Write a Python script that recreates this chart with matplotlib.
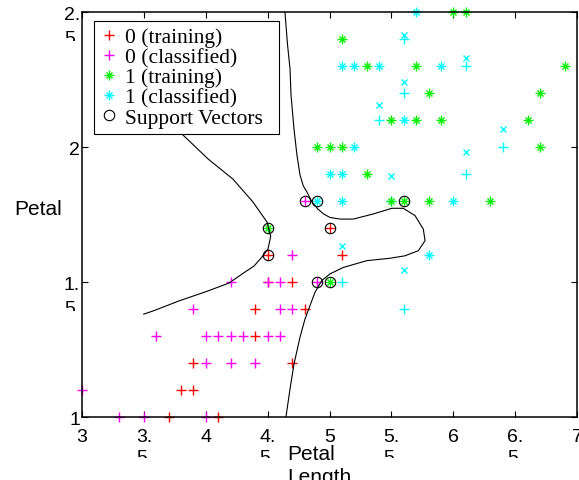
import matplotlib
matplotlib.use('Agg')
import matplotlib.pyplot as plt
from matplotlib.transforms import Affine2D, ScaledTranslation, Bbox
from matplotlib.legend_handler import HandlerTuple

# ---------------- data (petal length, petal width) ----------------
train0_x = [3.7, 4.1, 3.8, 3.9, 3.9, 4.7, 4.4, 4.4, 4.8, 4.5, 4.7, 4.5, 5.1, 5.0]
train0_y = [1.0, 1.0, 1.1, 1.1, 1.2, 1.2, 1.3, 1.4, 1.4, 1.5, 1.5, 1.6, 1.6, 1.7]

class0_x = [3.3, 3.5, 4.0, 3.0, 4.0, 4.2, 4.4, 3.6, 4.0, 4.1, 4.2, 4.3, 4.5, 4.6,
            3.9, 4.6, 4.7, 4.2, 4.5, 4.6, 4.9, 4.7, 4.8]
class0_y = [1.0, 1.0, 1.0, 1.1, 1.2, 1.2, 1.2, 1.3, 1.3, 1.3, 1.3, 1.3, 1.3, 1.3,
            1.4, 1.4, 1.4, 1.5, 1.5, 1.5, 1.5, 1.6, 1.8]

train1_x = [6.0, 6.1, 5.1, 5.3, 5.7, 6.9, 5.8, 6.7, 5.5, 5.7, 5.9, 6.6,
            4.9, 5.0, 5.1, 6.7, 5.3, 5.5, 5.6, 5.8, 6.3, 4.5, 5.0]
train1_y = [2.5, 2.5, 2.4, 2.3, 2.3, 2.3, 2.2, 2.2, 2.1, 2.1, 2.1, 2.1,
            2.0, 2.0, 2.0, 2.0, 1.9, 1.8, 1.8, 1.8, 1.8, 1.7, 1.5]

# classified class 1, drawn as complete asterisks
class1_x = [5.7, 5.1, 5.2, 5.4, 5.9, 5.6, 5.2, 5.0, 5.1, 4.9, 5.1, 6.0, 5.8]
class1_y = [2.5, 2.3, 2.3, 2.3, 2.3, 2.1, 2.0, 1.9, 1.9, 1.8, 1.8, 1.8, 1.6]
# classified class 1 whose "x" stroke is rendered displaced in the reference
class1b_x = [5.6, 6.1, 5.6, 5.4, 6.4, 6.1, 5.5, 5.1, 5.6]
class1b_y = [2.4, 2.3, 2.2, 2.1, 2.0, 1.9, 1.8, 1.5, 1.4]

sv_x = [4.8, 4.9, 5.6, 4.5, 5.0, 4.5, 4.9, 5.0]
sv_y = [1.8, 1.8, 1.8, 1.7, 1.7, 1.6, 1.5, 1.5]

# decision boundary (two branches)
bnd1_x = [3.67, 3.808, 4.018, 4.220, 4.382, 4.495, 4.525, 4.503, 4.455, 4.390,
          4.317, 4.188, 3.994, 3.784, 3.582, 3.499]
bnd1_y = [2.122, 2.048, 1.956, 1.881, 1.796, 1.722, 1.670, 1.622, 1.593, 1.559,
          1.537, 1.496, 1.463, 1.430, 1.394, 1.381]
bnd2_x = [4.640, 4.661, 4.681, 4.689, 4.713, 4.737, 4.762, 4.788, 4.818, 4.859,
          4.907, 4.952, 5.004, 5.085, 5.192, 5.354, 5.503, 5.596, 5.691, 5.758,
          5.772, 5.718, 5.610, 5.489, 5.301, 5.112, 5.004, 4.937, 4.883, 4.842,
          4.802, 4.762, 4.713, 4.681, 4.648]
bnd2_y = [2.500, 2.378, 2.289, 2.193, 2.067, 1.970, 1.896, 1.856, 1.833, 1.796,
          1.770, 1.752, 1.739, 1.733, 1.733, 1.752, 1.773, 1.773, 1.746, 1.696,
          1.653, 1.616, 1.597, 1.588, 1.579, 1.554, 1.530, 1.505, 1.462, 1.412,
          1.363, 1.296, 1.196, 1.104, 1.000]

xticks = [3, 3.5, 4, 4.5, 5, 5.5, 6, 6.5, 7]
xtick_labels = ['3', '3.\n5', '4', '4.\n5', '5', '5.\n5', '6', '6.\n5', '7']
yticks = [1, 1.5, 2, 2.5]
ytick_labels = ['1', '1.\n5', '2', '2.\n5']

legend_labels = ['0 (training)', '0 (classified)', '1 (training)',
                 '1 (classified)', 'Support Vectors']

# ---------------- figure ----------------
W, H, DPI = 579, 481, 100
fig = plt.figure(figsize=(W / DPI, H / DPI), dpi=DPI)
ax = fig.add_axes([82 / W, (H - 418) / H, 495 / W, 405 / H])
ax.set_xlim(3, 7)
ax.set_ylim(1, 2.5)

RED, MAG, GRN, CYN = '#ff0000', '#ff00ff', '#00ee00', '#00ffff'
ms_p, ms_x, mew = 7.5, 5.0, 1.0

h_r, = ax.plot(train0_x, train0_y, ls='none', marker='+', ms=ms_p, mew=mew, color=RED, clip_on=False)
h_m, = ax.plot(class0_x, class0_y, ls='none', marker='+', ms=ms_p, mew=mew, color=MAG, clip_on=False)

h_cp, = ax.plot(class1_x, class1_y, ls='none', marker='+', ms=ms_p, mew=mew, color=CYN, clip_on=False)
h_cx, = ax.plot(class1_x, class1_y, ls='none', marker='x', ms=ms_x, mew=mew, color=CYN, clip_on=False)
ax.plot(class1b_x, class1b_y, ls='none', marker='+', ms=ms_p, mew=mew, color=CYN, clip_on=False)
shift = Affine2D().scale(1, 0.87).translate(0, 2.5 * 0.13 + 0.003) + ax.transData
ax.plot(class1b_x, class1b_y, ls='none', marker='x', ms=ms_x, mew=mew, color=CYN,
        clip_on=False, transform=shift)

h_gp, = ax.plot(train1_x, train1_y, ls='none', marker='+', ms=ms_p, mew=mew, color=GRN, clip_on=False)
h_gx, = ax.plot(train1_x, train1_y, ls='none', marker='x', ms=ms_x, mew=mew, color=GRN, clip_on=False)

h_sv, = ax.plot(sv_x, sv_y, ls='none', marker='o', ms=7.5, mfc='none', mec='black',
                mew=0.8, clip_on=False)

ax.plot(bnd1_x, bnd1_y, color='black', lw=0.8)
ax.plot(bnd2_x, bnd2_y, color='black', lw=0.8)

# ---------------- axes styling ----------------
for s in ax.spines.values():
    s.set_linewidth(1.1)
    s.set_color('black')
ax.set_xticks(xticks)
ax.set_yticks(yticks)
ax.tick_params(direction='in', top=True, right=True, length=4.3, width=0.8,
               labelbottom=False, labelleft=False)

TICKFONT = dict(family='Liberation Sans', fontsize=14, color='black')
LABELFONT = dict(family='Liberation Sans', fontsize=15, color='black')
px = 1.0 / DPI  # inches per pixel

for v, s in zip(xticks, xtick_labels):
    t = fig.text(v, 0, s, transform=ax.get_xaxis_transform()
                 + ScaledTranslation(0, -11 * px, fig.dpi_scale_trans),
                 ha='center', va='top', multialignment='left', linespacing=1.27,
                 **TICKFONT)
    t.set_clip_box(Bbox.from_extents(0, H - 459, W, H))

for v, s in zip(yticks, ytick_labels):
    t = fig.text(0, v, s, transform=ax.get_yaxis_transform()
                 + ScaledTranslation(-2 * px, 6 * px, fig.dpi_scale_trans),
                 ha='right', va='top', multialignment='left', linespacing=1.55,
                 **TICKFONT)
    ty = ax.transData.transform((3, v))[1]
    t.set_clip_box(Bbox.from_extents(0, ty - 28.5, W, H))

ax.set_xlabel('Petal\nLength', ha='left', va='top', multialignment='left',
              linespacing=1.29, **LABELFONT)
ax.xaxis.set_label_coords((287 - 82) / 495, (418 - 445) / 405)
ax.set_ylabel('Petal', rotation=0, ha='center', va='center', **LABELFONT)
ax.yaxis.set_label_coords((38 - 82) / 495, (418 - 210) / 405)

# ---------------- legend ----------------
x0 = (94.3 - 82) / 495
y1 = (418 - 21.7) / 405
wl = (279.3 - 94.3) / 495
hl = (136.7 - 21.7) / 405
leg = ax.legend([h_r, h_m, (h_gp, h_gx), (h_cp, h_cx), h_sv], legend_labels,
                handler_map={tuple: HandlerTuple(ndivide=1)},
                loc='upper left', bbox_to_anchor=(x0, y1 - hl, wl, hl),
                mode='expand', borderaxespad=0, borderpad=0.3,
                handlelength=0.8, handletextpad=0.33, labelspacing=0.0,
                fancybox=False, shadow=False, framealpha=1, edgecolor='black',
                prop=dict(family='Liberation Serif', size=15.5))
leg.get_frame().set_linewidth(0.8)
leg.set_zorder(10)

fig.savefig('out.png', dpi=DPI)
